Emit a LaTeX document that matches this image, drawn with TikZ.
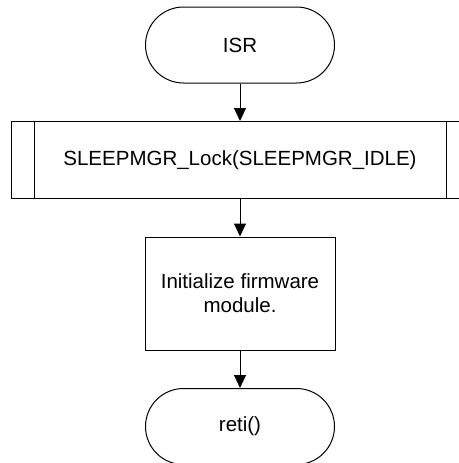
\documentclass[tikz,border=0pt]{standalone}
\usepackage{fontspec}
\setmainfont{Liberation Sans}
\usetikzlibrary{arrows.meta, positioning}

\begin{document}
\begin{tikzpicture}[
    x=1pt, y=1pt,
    node distance=37.5pt,
    term/.style={rectangle, rounded corners=38pt, draw, line width=1pt, minimum width=189pt, minimum height=76pt, align=center, font=\fontsize{20.5}{24}\selectfont},
    subproc/.style={rectangle, draw, line width=1pt, minimum width=457pt, minimum height=77pt, align=center, font=\fontsize{20.5}{24}\selectfont},
    proc/.style={rectangle, draw, line width=1pt, minimum width=190pt, minimum height=113pt, align=center, font=\fontsize{20.5}{24}\selectfont},
    arrow/.style={-{Triangle[length=13pt, width=12pt]}, line width=1pt}
]
\useasboundingbox (0,0) rectangle (458,-463);

\node[term] (isr) at (240,-45) {ISR};
\node[subproc, below=of isr] (lock) {SLEEPMGR\_Lock(SLEEPMGR\_IDLE)};
\node[proc, below=of lock] (init) {Initialize firmware\\module.};
\node[term, below=of init] (reti) {reti()};

% side bars of the subroutine box
\draw[line width=1pt] ([xshift=23pt]lock.north west) -- ([xshift=23pt]lock.south west);
\draw[line width=1pt] ([xshift=-23pt]lock.north east) -- ([xshift=-23pt]lock.south east);

\draw[arrow] (isr) -- (lock);
\draw[arrow] (lock) -- (init);
\draw[arrow] (init) -- (reti);

\end{tikzpicture}
\end{document}
